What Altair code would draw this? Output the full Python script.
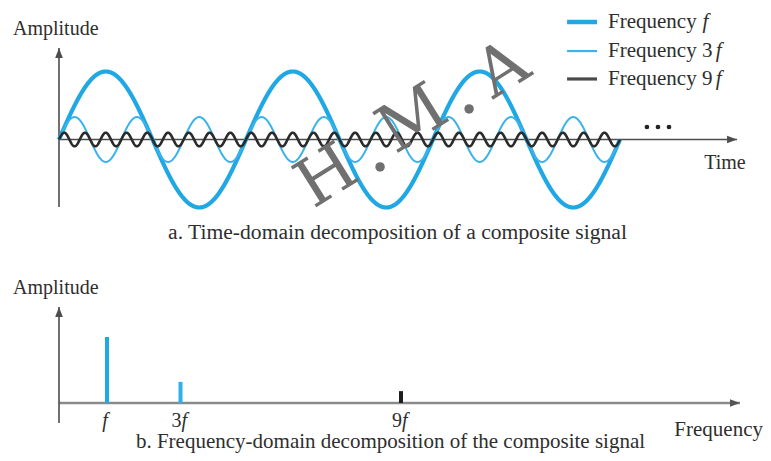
import altair as alt
import numpy as np
import pandas as pd

# ---------------- data ----------------
series = ["Frequency f", "Frequency 3f", "Frequency 9f"]
harmonic = [1, 3, 9]                 # multiples of the base frequency
time_amp = [1.0, 0.33, 0.10]         # relative amplitude of each component (time domain)
spectrum_height = [1.0, 0.32, 0.18]  # heights of the spectral lines (frequency domain)
legend_prefix = ["Frequency", "Frequency 3", "Frequency 9"]
tick_num = ["", "3", "9"]
periods = 3                          # periods of the base signal shown

# ---------------- styles ----------------
colors = ["#1fa8e4", "#3bb3ea", "#2b2b2b"]
widths = [4.2, 2.0, 2.6]
legend_widths = [4.5, 2.2, 3.2]
legend_colors = ["#1fa8e4", "#3bb3ea", "#4a4a4a"]
TXT = "#2e2e2e"
FONT = "Liberation Serif, Times New Roman, serif"
AX = "#4d4d4d"

# ---------------- top panel (time domain) ----------------
tx = alt.Scale(domain=[-0.27273, 3.76471], nice=False, zero=False)
ty = alt.Scale(domain=[-4.6103, 1.9338], nice=False, zero=False)
X = lambda f="t": alt.X(f"{f}:Q", scale=tx, axis=None)
Y = lambda f="a": alt.Y(f"{f}:Q", scale=ty, axis=None)

t = np.linspace(0, periods, 2700)
wave_frames = []
for s, k, amp in zip(series, harmonic, time_amp):
    wave_frames.append(pd.DataFrame({"t": t, "a": amp * np.sin(2 * np.pi * k * t), "series": s}))
waves = pd.concat(wave_frames, ignore_index=True)

top_layers = []
# axes
top_axes = pd.DataFrame({"t": [0, 0], "a": [-0.993, 0], "t2": [0, 3.626], "a2": [1.346, 0]})
top_layers.append(alt.Chart(top_axes).mark_rule(color=AX, strokeWidth=1.6).encode(
    x=X(), y=Y(), x2="t2:Q", y2="a2:Q"))
top_layers.append(alt.Chart(pd.DataFrame({"t": [0], "a": [1.346]})).mark_point(
    shape="M0,0 L0.38,1 L-0.38,1 Z", size=400, filled=True, color=AX, opacity=1, strokeWidth=0
).encode(x=X(), y=Y()))
top_layers.append(alt.Chart(pd.DataFrame({"t": [3.626], "a": [0]})).mark_point(
    shape="M0,0 L-1,0.38 L-1,-0.38 Z", size=400, filled=True, color=AX, opacity=1, strokeWidth=0
).encode(x=X(), y=Y()))

# waves (drawn f, 3f, 9f so the fast wave is on top)
for s, c, w in zip(series, colors, widths):
    top_layers.append(alt.Chart(waves).transform_filter(alt.datum.series == s).mark_line(
        color=c, strokeWidth=w, strokeJoin="round").encode(x=X(), y=Y(), order="t:Q"))

# legend
leg = pd.DataFrame({"t": [2.717] * 3, "t2": [2.877] * 3, "a": [1.728, 1.301, 0.890],
                    "label": legend_prefix, "series": series})
for i, (c, w) in enumerate(zip(legend_colors, legend_widths)):
    top_layers.append(alt.Chart(leg.iloc[[i]]).mark_rule(color=c, strokeWidth=w).encode(
        x=X(), x2="t2:Q", y=Y()))
top_layers.append(alt.Chart(leg.assign(tt=2.936)).mark_text(
    align="left", baseline="middle", font=FONT, fontSize=21, color=TXT).encode(
    x=X("tt"), y=Y(), text="label:N"))
top_layers.append(alt.Chart(leg.assign(tf=[3.441, 3.512, 3.512])).mark_text(
    align="left", baseline="middle", font=FONT, fontSize=21, fontStyle="italic", color=TXT).encode(
    x=X("tf"), y=Y(), text=alt.value("f")))

# labels
top_labels = pd.DataFrame({"t": [-0.246], "a": [1.625], "txt": ["Amplitude"]})
top_layers.append(alt.Chart(top_labels).mark_text(
    align="left", baseline="middle", font=FONT, fontSize=20, color=TXT).encode(
    x=X(), y=Y(), text="txt:N"))
top_layers.append(alt.Chart(pd.DataFrame({"t": [3.561], "a": [-0.346], "txt": ["Time"]})).mark_text(
    align="center", baseline="middle", font=FONT, fontSize=20, color=TXT).encode(
    x=X(), y=Y(), text="txt:N"))
top_layers.append(alt.Chart(pd.DataFrame({"t": [3.144, 3.203, 3.262], "a": [0.184] * 3})).mark_point(
    shape="circle", size=22, filled=True, color="#222", opacity=1).encode(x=X(), y=Y()))
top_layers.append(alt.Chart(pd.DataFrame({"t": [1.810], "a": [-1.375],
                                          "txt": ["a. Time-domain decomposition of a composite signal"]})).mark_text(
    align="center", baseline="middle", font=FONT, fontSize=21.6, color=TXT).encode(
    x=X(), y=Y(), text="txt:N"))

# watermark
wm = pd.DataFrame({"t": [1.433, 1.893, 2.374], "a": [-0.551, 0.287, 1.022], "ch": ["H", "M", "A"]})
top_layers.append(alt.Chart(wm).mark_text(
    align="center", baseline="middle", font="DejaVu Serif", fontSize=66, angle=328,
    color="#707070").encode(x=X(), y=Y(), text="ch:N"))
top_layers.append(alt.Chart(pd.DataFrame({"t": [1.717, 2.193], "a": [-0.404, 0.449]})).mark_point(
    shape="circle", size=90, filled=True, color="#707070", opacity=1).encode(x=X(), y=Y()))

top = alt.layer(*top_layers)

# ---------------- bottom panel (frequency domain) ----------------
bx = alt.Scale(domain=[-1.6939, 18.850], nice=False, zero=False)
by = alt.Scale(domain=[-0.7576, 5.9848], nice=False, zero=False)
BX = lambda f="k": alt.X(f"{f}:Q", scale=bx, axis=None)
BY = lambda f="a": alt.Y(f"{f}:Q", scale=by, axis=None)

bot_layers = []
bot_layers.append(alt.Chart(pd.DataFrame({"k": [-0.306], "a": [0], "k2": [18.224], "a2": [0]})).mark_rule(
    color="#8a8a8a", strokeWidth=2.6).encode(x=BX(), y=BY(), x2="k2:Q", y2="a2:Q"))
bot_layers.append(alt.Chart(pd.DataFrame({"k": [-0.306], "a": [-0.303], "k2": [-0.306], "a2": [1.455]})).mark_rule(
    color=AX, strokeWidth=1.6).encode(x=BX(), y=BY(), x2="k2:Q", y2="a2:Q"))
bot_layers.append(alt.Chart(pd.DataFrame({"k": [-0.306], "a": [1.455]})).mark_point(
    shape="M0,0 L0.38,1 L-0.38,1 Z", size=400, filled=True, color=AX, opacity=1, strokeWidth=0
).encode(x=BX(), y=BY()))
bot_layers.append(alt.Chart(pd.DataFrame({"k": [18.224], "a": [0]})).mark_point(
    shape="M0,0 L-1,0.38 L-1,-0.38 Z", size=400, filled=True, color="#555", opacity=1, strokeWidth=0
).encode(x=BX(), y=BY()))

spec = pd.DataFrame({"k": harmonic, "h": spectrum_height, "series": series, "base": 0.0})
stem_colors = ["#1fa8e4", "#2fb0ea", "#1e1e1e"]
for i, c in enumerate(stem_colors):
    bot_layers.append(alt.Chart(spec.iloc[[i]]).mark_rule(color=c, strokeWidth=4).encode(
        x=BX(), y=BY("base"), y2="h:Q"))

ticks = pd.DataFrame({"k": harmonic, "num": tick_num, "a": [-0.273] * 3})
bot_layers.append(alt.Chart(ticks.iloc[1:]).mark_text(
    align="right", baseline="middle", font=FONT, fontSize=20, color=TXT, dx=1).encode(
    x=BX(), y=BY(), text="num:N"))
bot_layers.append(alt.Chart(ticks.iloc[1:]).mark_text(
    align="left", baseline="middle", font=FONT, fontSize=20, fontStyle="italic", color=TXT, dx=1).encode(
    x=BX(), y=BY(), text=alt.value("f")))
bot_layers.append(alt.Chart(ticks.iloc[[0]]).mark_text(
    align="center", baseline="middle", font=FONT, fontSize=20, fontStyle="italic", color=TXT, dx=-2).encode(
    x=BX(), y=BY(), text=alt.value("f")))

bot_layers.append(alt.Chart(pd.DataFrame({"k": [-1.557], "a": [1.742], "txt": ["Amplitude"]})).mark_text(
    align="left", baseline="middle", font=FONT, fontSize=20, color=TXT).encode(
    x=BX(), y=BY(), text="txt:N"))
bot_layers.append(alt.Chart(pd.DataFrame({"k": [18.85], "a": [-0.41], "txt": ["Frequency"]})).mark_text(
    align="right", baseline="middle", font=FONT, fontSize=21, color=TXT).encode(
    x=BX(), y=BY(), text="txt:N"))
bot_layers.append(alt.Chart(pd.DataFrame({"k": [8.714], "a": [-0.59],
                                          "txt": ["b. Frequency-domain decomposition of the composite signal"]})).mark_text(
    align="center", baseline="middle", font=FONT, fontSize=21, color=TXT).encode(
    x=BX(), y=BY(), text="txt:N"))

bottom = alt.layer(*bot_layers)

chart = alt.layer(top, bottom).resolve_scale(x="independent", y="independent").properties(
    width=755, height=445, padding=0, autosize=alt.AutoSizeParams(type="none"),
    background="white",
).configure_view(stroke=None)

chart.save("out.html", embed_options={"renderer": "svg", "actions": False})
